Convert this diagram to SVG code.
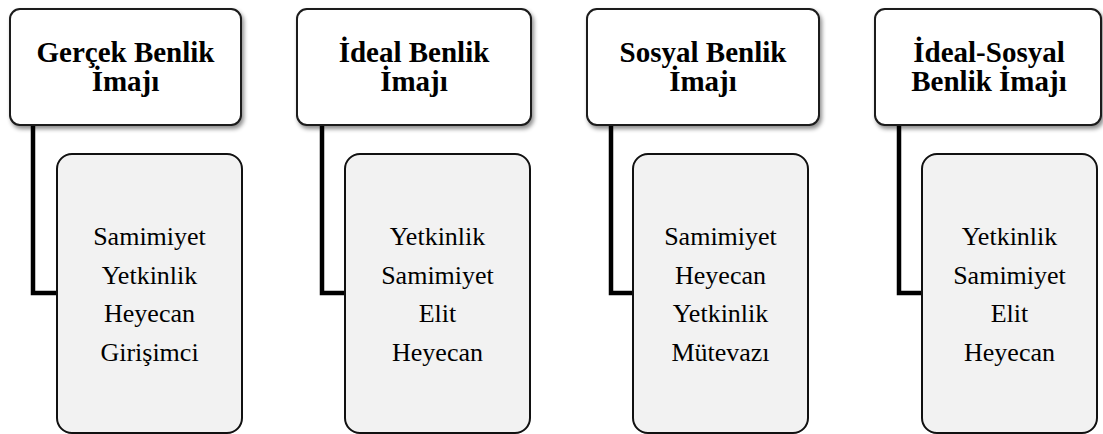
<svg xmlns="http://www.w3.org/2000/svg" width="1103" height="434" viewBox="0 0 1103 434">
<defs>
<filter id="sh" x="-10%" y="-10%" width="125%" height="130%">
<feDropShadow dx="2" dy="3" stdDeviation="2" flood-color="#000" flood-opacity="0.45"/>
</filter>
<style>
.top{fill:#fff;stroke:#1a1a1a;stroke-width:2;filter:url(#sh)}
.bot{fill:#f2f2f2;stroke:#111;stroke-width:2}
.conn{fill:none;stroke:#000;stroke-width:4.5;stroke-linejoin:miter}
.tt{font-weight:bold;font-size:29px;text-anchor:middle;fill:#000}
.bt{font-size:26px;text-anchor:middle;fill:#000}
</style>
</defs>
<rect width="1103" height="434" fill="#fff"/>
<g id="connectors">
<path class="conn" d="M33,124 V293 H58"/>
<path class="conn" d="M322,124 V293 H346"/>
<path class="conn" d="M611,124 V293 H634"/>
<path class="conn" d="M899,124 V293 H923"/>
</g>
<g font-family="'Liberation Serif', 'DejaVu Serif', serif">
<g id="node-gercek">
<rect class="top" x="10" y="9" width="231" height="116" rx="10"/>
<text class="tt" x="125.5" y="62">Gerçek Benlik</text>
<text class="tt" x="125.5" y="91">İmajı</text>
</g>
<g id="node-gercek-items">
<rect class="bot" x="57" y="154" width="185" height="279" rx="15"/>
<text class="bt" x="149.5" y="245">Samimiyet</text>
<text class="bt" x="149.5" y="283.5">Yetkinlik</text>
<text class="bt" x="149.5" y="322">Heyecan</text>
<text class="bt" x="149.5" y="360.5">Girişimci</text>
</g>
<g id="node-ideal">
<rect class="top" x="297" y="9" width="234" height="116" rx="10"/>
<text class="tt" x="414" y="62">İdeal Benlik</text>
<text class="tt" x="414" y="91">İmajı</text>
</g>
<g id="node-ideal-items">
<rect class="bot" x="345" y="154" width="185" height="279" rx="15"/>
<text class="bt" x="437.5" y="245">Yetkinlik</text>
<text class="bt" x="437.5" y="283.5">Samimiyet</text>
<text class="bt" x="437.5" y="322">Elit</text>
<text class="bt" x="437.5" y="360.5">Heyecan</text>
</g>
<g id="node-sosyal">
<rect class="top" x="587" y="9" width="232" height="116" rx="10"/>
<text class="tt" x="703" y="62">Sosyal Benlik</text>
<text class="tt" x="703" y="91">İmajı</text>
</g>
<g id="node-sosyal-items">
<rect class="bot" x="633" y="154" width="175" height="279" rx="15"/>
<text class="bt" x="720.5" y="245">Samimiyet</text>
<text class="bt" x="720.5" y="283.5">Heyecan</text>
<text class="bt" x="720.5" y="322">Yetkinlik</text>
<text class="bt" x="720.5" y="360.5">Mütevazı</text>
</g>
<g id="node-ideal-sosyal">
<rect class="top" x="875" y="9" width="226" height="116" rx="10"/>
<text class="tt" x="989" y="62">İdeal-Sosyal</text>
<text class="tt" x="989" y="91">Benlik İmajı</text>
</g>
<g id="node-ideal-sosyal-items">
<rect class="bot" x="922" y="154" width="175" height="279" rx="15"/>
<text class="bt" x="1009.5" y="245">Yetkinlik</text>
<text class="bt" x="1009.5" y="283.5">Samimiyet</text>
<text class="bt" x="1009.5" y="322">Elit</text>
<text class="bt" x="1009.5" y="360.5">Heyecan</text>
</g>
</g>
</svg>
